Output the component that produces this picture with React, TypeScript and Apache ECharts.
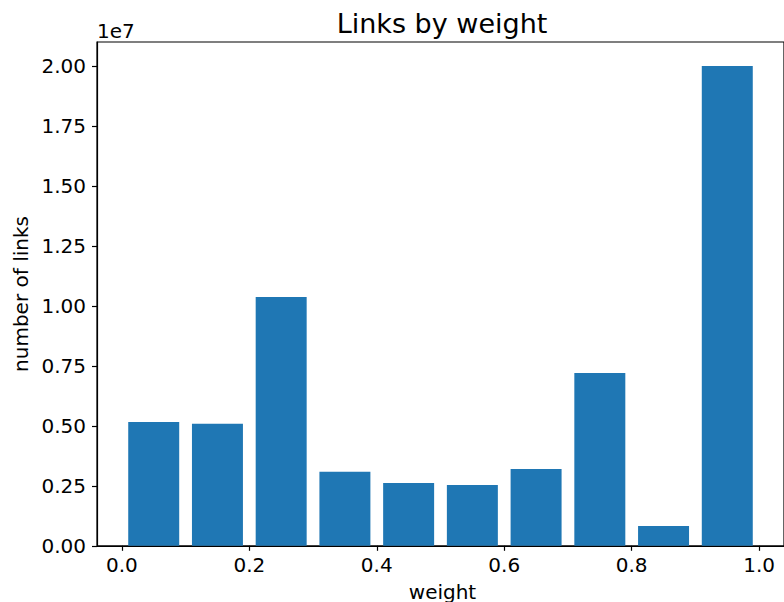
import React, { useEffect, useRef } from "react";
import * as echarts from "echarts";

// Histogram bins (left edges) and link counts per bin
const binStarts = [0.0, 0.1, 0.2, 0.3, 0.4, 0.5, 0.6, 0.7, 0.8, 0.9];
const binWidth = 0.1;
const relWidth = 0.8;
const counts = [5160000, 5080000, 10370000, 3080000, 2620000, 2530000, 3200000, 7200000, 825000, 19990000];

const xTicks = [0.0, 0.2, 0.4, 0.6, 0.8, 1.0];
const yTicks = [0, 2500000, 5000000, 7500000, 10000000, 12500000, 15000000, 17500000, 20000000];

const titleText = "Links by weight";
const xLabel = "weight";
const yLabel = "number of links";
const yOffsetText = "1e7";

const FONT = "DejaVu Sans";

export default function App() {
  const ref = useRef<HTMLDivElement>(null);

  useEffect(() => {
    if (!ref.current) return;
    const chart = echarts.init(ref.current, undefined, { renderer: "svg" });

    // matplotlib-style 5% margins around the drawn bar extents
    const lo = binStarts[0] + binWidth * (1 - relWidth) / 2;
    const hi = binStarts[binStarts.length - 1] + binWidth - binWidth * (1 - relWidth) / 2;
    const pad = (hi - lo) * 0.05;
    const yMax = Math.max(...counts) * 1.05;

    const data = binStarts.map((s, i) => [s, s + binWidth, counts[i]]);

    chart.setOption({
      animation: false,
      grid: {
        left: 97,
        right: -3.5,
        top: 42,
        bottom: 56.2,
        show: true,
        borderColor: "#000",
        borderWidth: 1.2,
        backgroundColor: "transparent",
      },
      xAxis: {
        type: "value",
        min: lo - pad,
        max: hi + pad,
        z: 5,
        splitLine: { show: false },
        axisLine: { show: true, onZero: false, lineStyle: { color: "#000", width: 1.2 } },
        axisTick: { show: true, length: 5, lineStyle: { color: "#000", width: 1.2 }, customValues: xTicks },
        axisLabel: {
          customValues: xTicks,
          margin: 9,
          color: "#000",
          fontSize: 20,
          fontFamily: FONT,
          formatter: (v: number) => v.toFixed(1),
        },
      },
      yAxis: {
        type: "value",
        min: 0,
        max: yMax,
        z: 5,
        splitLine: { show: false },
        axisLine: { show: true, onZero: false, lineStyle: { color: "#000", width: 1.2 } },
        axisTick: { show: true, length: 5, lineStyle: { color: "#000", width: 1.2 }, customValues: yTicks },
        axisLabel: {
          customValues: yTicks,
          margin: 11,
          color: "#000",
          fontSize: 20,
          fontFamily: FONT,
          formatter: (v: number) => (v / 1e7).toFixed(2),
        },
      },
      graphic: [
        {
          type: "text",
          x: 442,
          y: 23,
          style: { text: titleText, font: `27px "${FONT}"`, fill: "#000", align: "center", verticalAlign: "middle" },
        },
        {
          type: "text",
          x: 442.5,
          y: 591.5,
          style: { text: xLabel, font: `20px "${FONT}"`, fill: "#000", align: "center", verticalAlign: "middle" },
        },
        {
          type: "text",
          x: 21,
          y: 294,
          rotation: Math.PI / 2,
          style: { text: yLabel, font: `20px "${FONT}"`, fill: "#000", align: "center", verticalAlign: "middle" },
        },
        {
          type: "text",
          x: 97,
          y: 31,
          style: { text: yOffsetText, font: `20px "${FONT}"`, fill: "#000", align: "left", verticalAlign: "middle" },
        },
      ],
      series: [
        {
          type: "custom",
          data,
          encode: { x: [0, 1], y: 2 },
          renderItem: (params: any, api: any) => {
            const s = api.value(0);
            const e = api.value(1);
            const inset = (e - s) * (1 - relWidth) / 2;
            const p0 = api.coord([s + inset, api.value(2)]);
            const p1 = api.coord([e - inset, 0]);
            return {
              type: "rect",
              shape: { x: p0[0], y: p0[1], width: p1[0] - p0[0], height: p1[1] - p0[1] },
              style: { fill: "#1f77b4" },
            };
          },
        },
      ],
    });

    return () => chart.dispose();
  }, []);

  return <div ref={ref} style={{ width: 784, height: 602, position: "absolute", left: 0, top: 0 }} />;
}
